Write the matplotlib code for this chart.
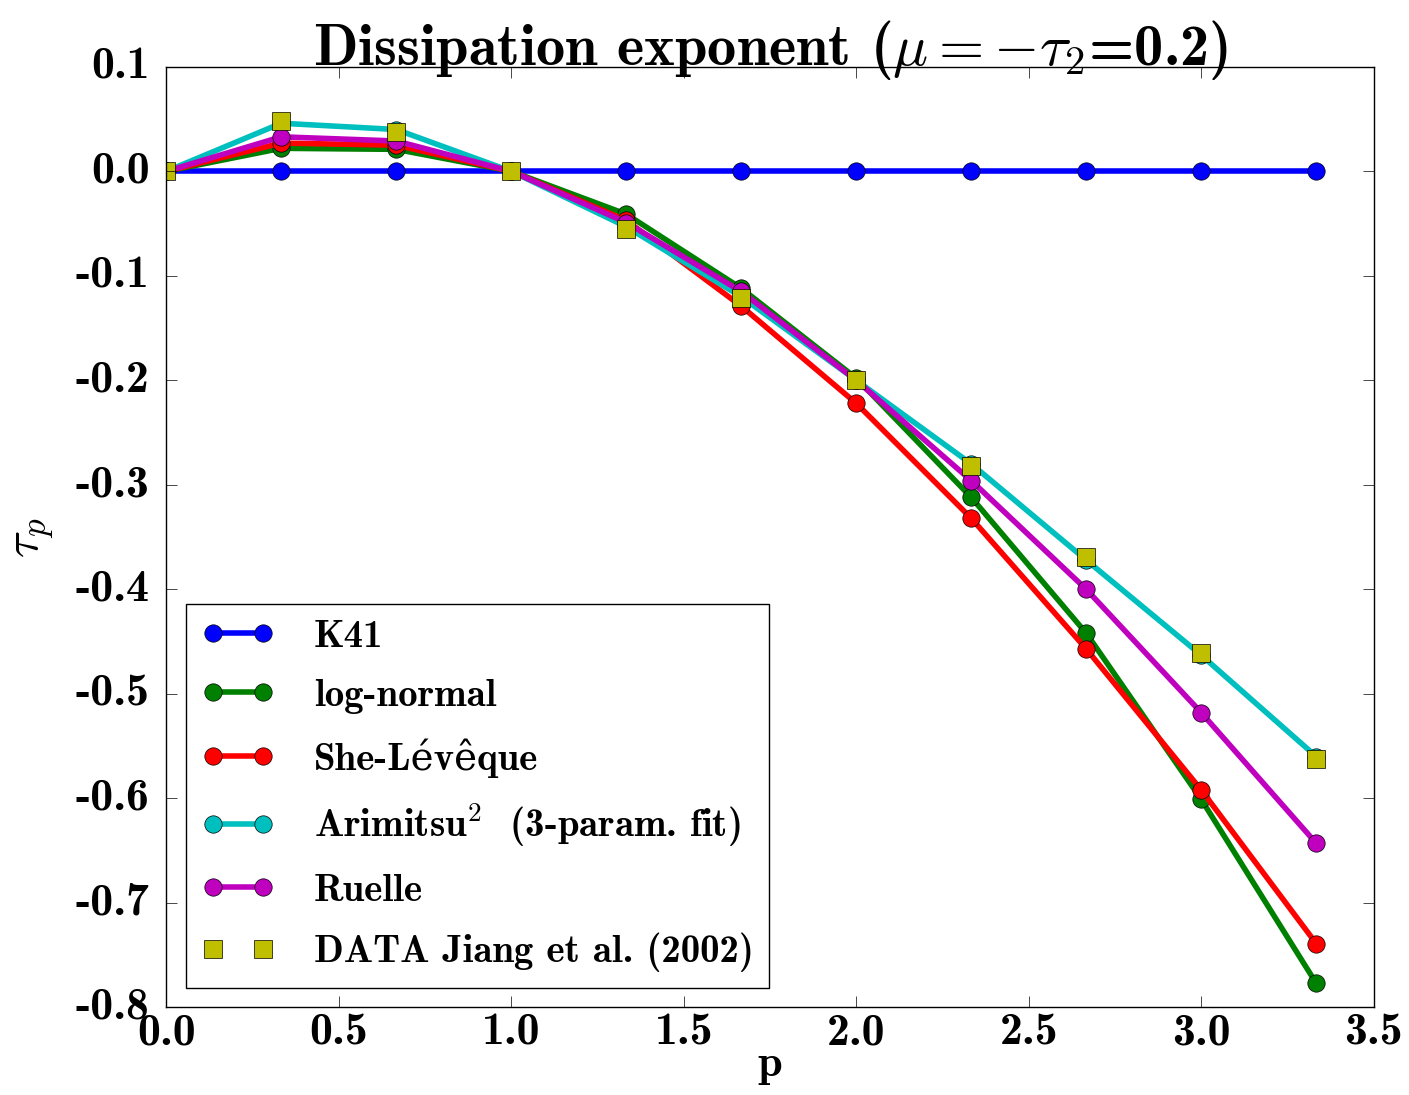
import matplotlib
matplotlib.use("Agg")
import matplotlib.pyplot as plt
import numpy as np

plt.style.use('classic')
plt.rcParams['font.family'] = ['cmb10', 'DejaVu Serif']
plt.rcParams['mathtext.fontset'] = 'cm'
plt.rcParams['axes.unicode_minus'] = False

# p values (multiples of 1/3)
p = np.arange(11) / 3.0

k41 = [0, 0, 0, 0, 0, 0, 0, 0, 0, 0, 0]
lognormal = [0, 0.022, 0.021, 0, -0.041, -0.112, -0.198, -0.312, -0.442, -0.601, -0.777]
she_leveque = [0, 0.027, 0.025, 0, -0.047, -0.129, -0.222, -0.332, -0.457, -0.592, -0.739]
arimitsu = [0, 0.046, 0.040, 0, -0.053, -0.120, -0.200, -0.280, -0.372, -0.463, -0.560]
ruelle = [0, 0.033, 0.029, 0, -0.049, -0.115, -0.200, -0.296, -0.400, -0.518, -0.643]
data_jiang = [0, 0.048, 0.038, 0, -0.055, -0.121, -0.200, -0.282, -0.369, -0.461, -0.562]

fig = plt.figure(figsize=(14.09, 10.95), dpi=100, facecolor='white')
ax = fig.add_axes([0.118, 0.080, 0.857, 0.859])

lw = 4
ms = 12.5
ax.plot(p, k41, 'b-o', lw=lw, ms=ms, label='K41')
ax.plot(p, lognormal, 'g-o', lw=lw, ms=ms, label='log-normal')
ax.plot(p, she_leveque, 'r-o', lw=lw, ms=ms, label='She-Lévêque')
ax.plot(p, arimitsu, 'c-o', lw=lw, ms=ms, label=r'Arimitsu$^2$  (3-param. fit)')
ax.plot(p, ruelle, 'm-o', lw=lw, ms=ms, label='Ruelle')
ax.plot(p, data_jiang, 'ys', ms=ms, label='DATA Jiang et al. (2002)')

ax.set_xlim(0, 3.5)
ax.set_ylim(-0.8, 0.1)
ax.set_xticks(np.arange(0, 3.51, 0.5))
ax.set_yticks(np.arange(-0.8, 0.11, 0.1))
ax.set_xticklabels(['%.1f' % v for v in np.arange(0, 3.51, 0.5)])
ax.set_yticklabels(['%.1f' % v if abs(v) > 1e-9 else '0.0' for v in np.arange(-0.8, 0.11, 0.1)])
ax.tick_params(labelsize=33, length=8)
ax.tick_params(axis='y', pad=12)
ax.tick_params(axis='x', pad=4)

ax.set_xlabel('p', fontsize=32, labelpad=-6)
ax.set_ylabel(r'$\tau_p$', fontsize=36, labelpad=14)
ax.set_title(r'Dissipation exponent ($\mu=-\tau_2$=0.2)', fontsize=42, y=0.995)

leg = ax.legend(loc='lower left', numpoints=2, fontsize=28, fancybox=False,
                handlelength=1.9, handletextpad=1.0, labelspacing=0.62,
                borderaxespad=0.5)
leg.get_frame().set_edgecolor('black')

plt.savefig('out.png', dpi=100, facecolor='white')
